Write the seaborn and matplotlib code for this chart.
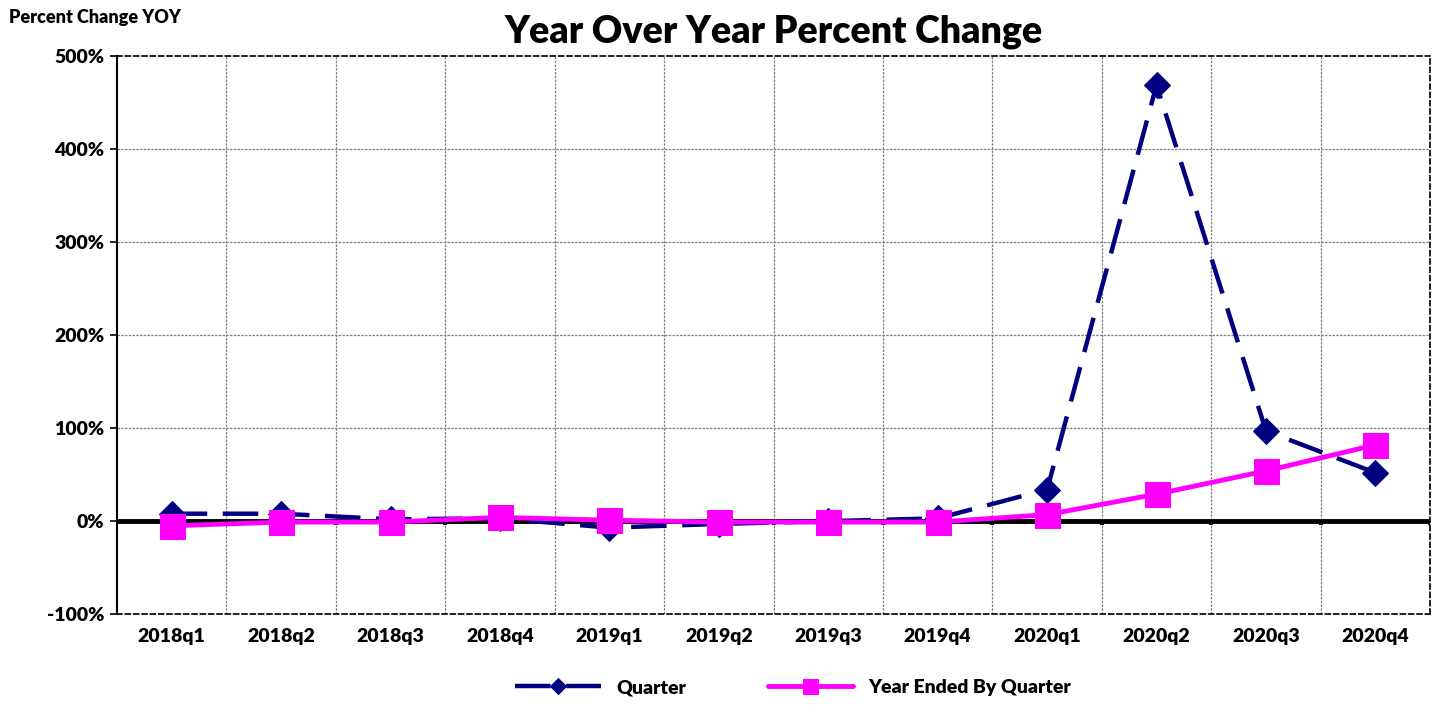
import matplotlib.pyplot as plt
import seaborn as sns
import pandas as pd
from matplotlib.ticker import FuncFormatter

quarters = ["2018q1", "2018q2", "2018q3", "2018q4", "2019q1", "2019q2",
            "2019q3", "2019q4", "2020q1", "2020q2", "2020q3", "2020q4"]
quarter_pct = [8, 8, 2, 3, -7, -3, 0, 3, 34, 469, 97, 52]
year_ended_pct = [-5, -1, -1, 4, 1, -1, -1, -1, 7, 29, 54, 82]

df = pd.DataFrame({"pos": range(len(quarters)), "Quarter": quarter_pct,
                   "Year Ended By Quarter": year_ended_pct})

sns.set_style("white")
plt.rcParams['font.family'] = ['Lato', 'DejaVu Sans']
plt.rcParams['font.weight'] = 'heavy'
plt.rcParams['text.color'] = 'black'
plt.rcParams['xtick.color'] = 'black'
plt.rcParams['ytick.color'] = 'black'

fig = plt.figure(figsize=(14.33, 7.10), dpi=100)
ax = fig.add_axes([0.0816, 0.135, 0.9164, 0.786])

# grid
for k in range(len(quarters) - 1):
    ax.axvline(k + 0.5, color='#808080', lw=0.9, ls=(0, (2, 1)), zorder=0)
for v in range(0, 500, 100):
    ax.axhline(v, color='#808080', lw=0.9, ls=(0, (2, 1)), zorder=0)
ax.axhline(0, color='black', lw=3.5, zorder=1)
ax.vlines([k + 0.5 for k in range(len(quarters))], -4, 0, color='black', lw=3, zorder=1)

sns.lineplot(data=df, x="pos", y="Quarter", ax=ax, color='#000080', lw=3.2,
             dashes=False, linestyle=(0, (8, 3.5)), marker='D', markersize=13,
             markeredgecolor='#000080', label="Quarter", zorder=3)
sns.lineplot(data=df, x="pos", y="Year Ended By Quarter", ax=ax, color='#FF00FF',
             lw=3.5, marker='s', markersize=18, markeredgecolor='#FF00FF',
             label="Year Ended By Quarter", zorder=4)

ax.set_xlim(-0.5, len(quarters) - 0.5)
ax.set_ylim(-100, 500)
ax.set_xticks(range(len(quarters)))
ax.set_xticklabels(quarters, fontsize=14, fontweight='heavy')
ax.set_yticks(range(-100, 501, 100))
ax.yaxis.set_major_formatter(FuncFormatter(lambda v, p: f"{int(v)}%"))
for lab in ax.get_yticklabels():
    lab.set_fontsize(14)
    lab.set_fontweight('heavy')
ax.tick_params(axis='x', length=0, pad=10)
ax.tick_params(axis='y', length=5, width=1.2, color='black', left=True, pad=4)
ax.set_xlabel("")
ax.set_ylabel("")

for side in ['top', 'right', 'bottom']:
    ax.spines[side].set_linestyle((0, (3, 2)))
    ax.spines[side].set_color('black')
    ax.spines[side].set_linewidth(1.2)
ax.spines['left'].set_linestyle((0, (6, 1)))
ax.spines['left'].set_color('black')
ax.spines['left'].set_linewidth(1.5)

ax.set_title("Year Over Year Percent Change", fontsize=27, fontweight='heavy', pad=10)
fig.text(0.006, 0.975, "Percent Change YOY", fontsize=13, fontweight='heavy', va='center')

ax.legend(loc='upper center', bbox_to_anchor=(0.515, -0.085), ncol=2, frameon=False,
          handlelength=4.4, columnspacing=4.2, markerscale=0.6,
          prop={'weight': 'heavy', 'size': 14})

fig.savefig("out.png", dpi=100)
